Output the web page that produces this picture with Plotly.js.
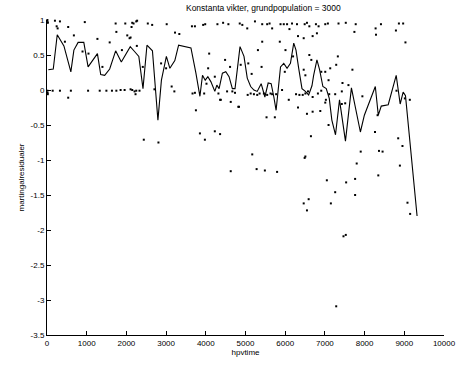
<!DOCTYPE html>
<html>
<head>
<meta charset="utf-8">
<script src="https://cdn.plot.ly/plotly-3.0.1.min.js"></script>
<style>html,body{margin:0;padding:0;background:#fff;}#chart{width:456px;height:365px;}</style>
</head>
<body>
<div id="chart"></div>
<script>
// smoothed martingale residual line
const lineX = [33,158,258,426,601,677,784,927,1035,1270,1353,1453,1579,1729,1872,2097,2205,2313,2418,2518,2656,2794,2882,3007,3095,3220,3315,3626,3751,3852,3917,3985,4052,4127,4228,4278,4335,4418,4503,4586,4669,4736,4862,4962,5044,5130,5212,5295,5395,5488,5571,5646,5714,5771,5882,5964,6047,6132,6215,6272,6340,6423,6508,6591,6674,6716,6799,6866,6949,7034,7110,7175,7267,7368,7518,7668,7894,7994,8270,8345,8420,8595,8796,8896,8971,9030,9322];
const lineY = [0.29,0.30,0.79,0.63,0.26,0.57,0.68,0.68,0.33,0.52,0.22,0.21,0.30,0.56,0.40,0.62,0.55,0.48,0.02,0.64,0.56,-0.43,0.14,0.48,0.31,0.42,0.64,0.60,0.24,-0.09,0.21,0.14,0.19,0.12,-0.02,0.07,0.02,0.24,0.26,0.19,0.02,0.02,0.62,0.48,0.17,0.05,0.00,-0.02,0.09,-0.10,0.10,0.09,-0.10,-0.29,0.33,0.38,0.31,0.38,0.67,0.57,0.31,0.02,-0.02,-0.07,0.06,0.21,0.43,0.29,0.05,0.02,-0.12,-0.43,-0.64,-0.14,-0.73,0.03,-0.60,-0.36,0.05,-0.36,-0.23,-0.21,0.21,-0.20,-0.03,-0.08,-1.80];

// individual martingale residuals
const dotX = [10,15,20,10,15,20,200,243,268,326,534,451,677,952,895,1045,1270,1579,1396,1729,1747,1972,2022,2105,2130,2180,2248,1887,2263,
143,326,534,601,1035,1328,1496,1636,1747,1854,1955,2105,2205,2248,
2147,2270,2539,2649,3015,3225,3333,3651,3726,3934,3985,4293,4436,4569,4855,4920,2080,2413,2874,3000,3140,3208,2147,2230,2330,2706,3666,3751,3726,4017,3959,4059,4085,4227,4318,4378,4486,4536,4611,4669,4736,4819,4879,5055,
2438,2807,3852,3977,4227,4360,4628,4360,4628,
5530,5739,6548,6691,6884,7092,6648,5170,5280,5488,5796,6508,6490,7049,7259,7535,7761,7801,7902,7761,8262,8362,8453,8345,8846,8954,8889,6466,6591,6548,7150,9080,9147,7468,7526,7285,
5044,5238,5421,5546,5606,5671,5882,5964,6047,6107,6172,6297,6491,6548,6608,6774,6841,7009,7075,7343,7526,7776,7743,8277,8412,8287,8864,8971,8789,9029,
5421,5864,5313,6007,6323,6466,6691,6799,5070,5405,5155,5990,6198,6608,6658,6466,6508,6909,7009,7134,7326,7285,7693,7443,7593,7092,7944,8803,9139,4836,6323,7511,7009,
5130,5212,5296,5355,5463,5546,5630,5671,5771,5921,6090,6273,6358,6441,6508,6574,6691,6824,6908,7025,7109,7259,7426,7426,9014,8327];
const dotY = [1.00,0.97,0.96,-0.01,-0.04,-0.06,0.99,0.91,0.88,0.98,0.90,0.69,0.78,0.97,0.55,0.52,0.73,0.68,0.33,0.95,0.83,0.95,0.78,0.75,0.90,0.95,0.98,0.57,0.63,
-0.01,-0.01,-0.11,-0.01,-0.01,-0.01,-0.01,-0.01,-0.01,0.00,0.00,0.01,-0.02,-0.01,
0.96,0.99,0.95,0.93,0.94,0.82,0.80,0.91,0.91,0.93,0.94,0.94,0.96,0.94,0.95,0.93,0.74,0.33,0.38,0.31,0.05,-0.02,0.00,-0.06,-0.01,0.01,-0.05,-0.29,-0.04,0.09,-0.05,0.31,0.52,0.19,-0.05,-0.14,0.43,-0.02,0.33,-0.02,-0.04,-0.24,0.36,-0.07,
-0.71,-0.75,-0.62,-0.71,-0.59,-0.63,-1.16,-0.14,-0.17,
-0.39,-0.39,-0.34,-0.31,-0.30,-0.50,-0.66,-0.92,-1.13,-1.15,-1.17,-0.95,-0.97,-1.29,-1.46,-1.32,-1.27,-1.05,-0.88,-1.50,-0.60,-0.87,-0.88,-1.22,-0.69,-0.80,-1.08,-1.62,-1.56,-1.72,-1.62,-1.61,-1.77,-2.09,-2.07,-3.09,
0.88,0.98,0.94,0.94,0.95,0.88,0.94,0.94,0.94,0.87,0.95,0.94,0.94,0.96,0.91,0.94,0.91,0.94,0.95,0.95,0.96,0.94,0.83,0.88,0.94,0.79,0.95,0.95,0.85,0.68,
0.69,0.69,0.57,0.57,0.77,0.74,0.77,0.81,0.38,0.33,0.23,0.26,0.48,0.50,0.43,0.29,0.21,0.26,0.26,0.31,0.48,0.36,0.29,0.10,0.07,0.14,-0.09,-0.01,-0.14,-0.24,-0.25,-0.19,-0.18,
-0.05,-0.06,-0.07,-0.05,-0.05,-0.07,-0.05,-0.06,-0.06,0.00,-0.14,-0.06,-0.07,-0.07,-0.05,-0.02,-0.10,-0.05,-0.01,-0.14,-0.06,-0.06,-0.02,-0.20,-0.12,-0.36];

const xTickVals = [0,1000,2000,3000,4000,5000,6000,7000,8000,9000,10000];
const xTickText = ["0","1000","2000","3000","4000","5000","6000","7000","8000","9000","10000"];
const yTickVals = [-3.5,-3,-2.5,-2,-1.5,-1,-0.5,0,0.5,1];
const yTickText = ["-3.5","-3","-2.5","-2","-1.5","-1","-0.5","0","0.5","1"];

const traces = [
  {x: dotX, y: dotY, type: 'scatter', mode: 'markers', cliponaxis: false,
   marker: {color: '#000', size: 2, symbol: 'square', line: {width: 0}}, hoverinfo: 'skip'},
  {x: lineX, y: lineY, type: 'scatter', mode: 'lines', cliponaxis: false,
   line: {color: '#000', width: 1.1}, hoverinfo: 'skip'}
];

const font = {family: 'Liberation Sans, Arial, sans-serif', size: 8, color: '#000'};
const layout = {
  width: 456, height: 365,
  margin: {l: 47, r: 12, t: 20, b: 30, pad: 0},
  paper_bgcolor: '#fff', plot_bgcolor: '#fff',
  showlegend: false,
  font: font,
  title: {text: 'Konstanta vikter, grundpopulation = 3000', font: {family: font.family, size: 8.5, color: '#000'},
          x: 0.545, xanchor: 'center', y: 0.978, yanchor: 'middle', xref: 'paper', yref: 'container'},
  xaxis: {range: [0, 10000], tickmode: 'array', tickvals: xTickVals, ticktext: xTickText,
          ticks: 'inside', ticklen: 4, tickcolor: '#000', tickwidth: 1,
          showline: true, linecolor: '#000', linewidth: 1, showgrid: false, zeroline: false,
          tickfont: font, automargin: false, ticklabeloverflow: 'allow',
          title: {text: 'hpvtime', font: font, standoff: 2}},
  yaxis: {range: [-3.5, 1], tickmode: 'array', tickvals: yTickVals, ticktext: yTickText,
          ticks: 'inside', ticklen: 4, tickcolor: '#000', tickwidth: 1,
          showline: true, linecolor: '#000', linewidth: 1, showgrid: false, zeroline: false,
          tickfont: font, automargin: false, ticklabeloverflow: 'allow',
          title: {text: 'martingalresidualer', font: font, standoff: 4}}
};

Plotly.newPlot('chart', traces, layout, {displayModeBar: false, staticPlot: true});
</script>
</body>
</html>
